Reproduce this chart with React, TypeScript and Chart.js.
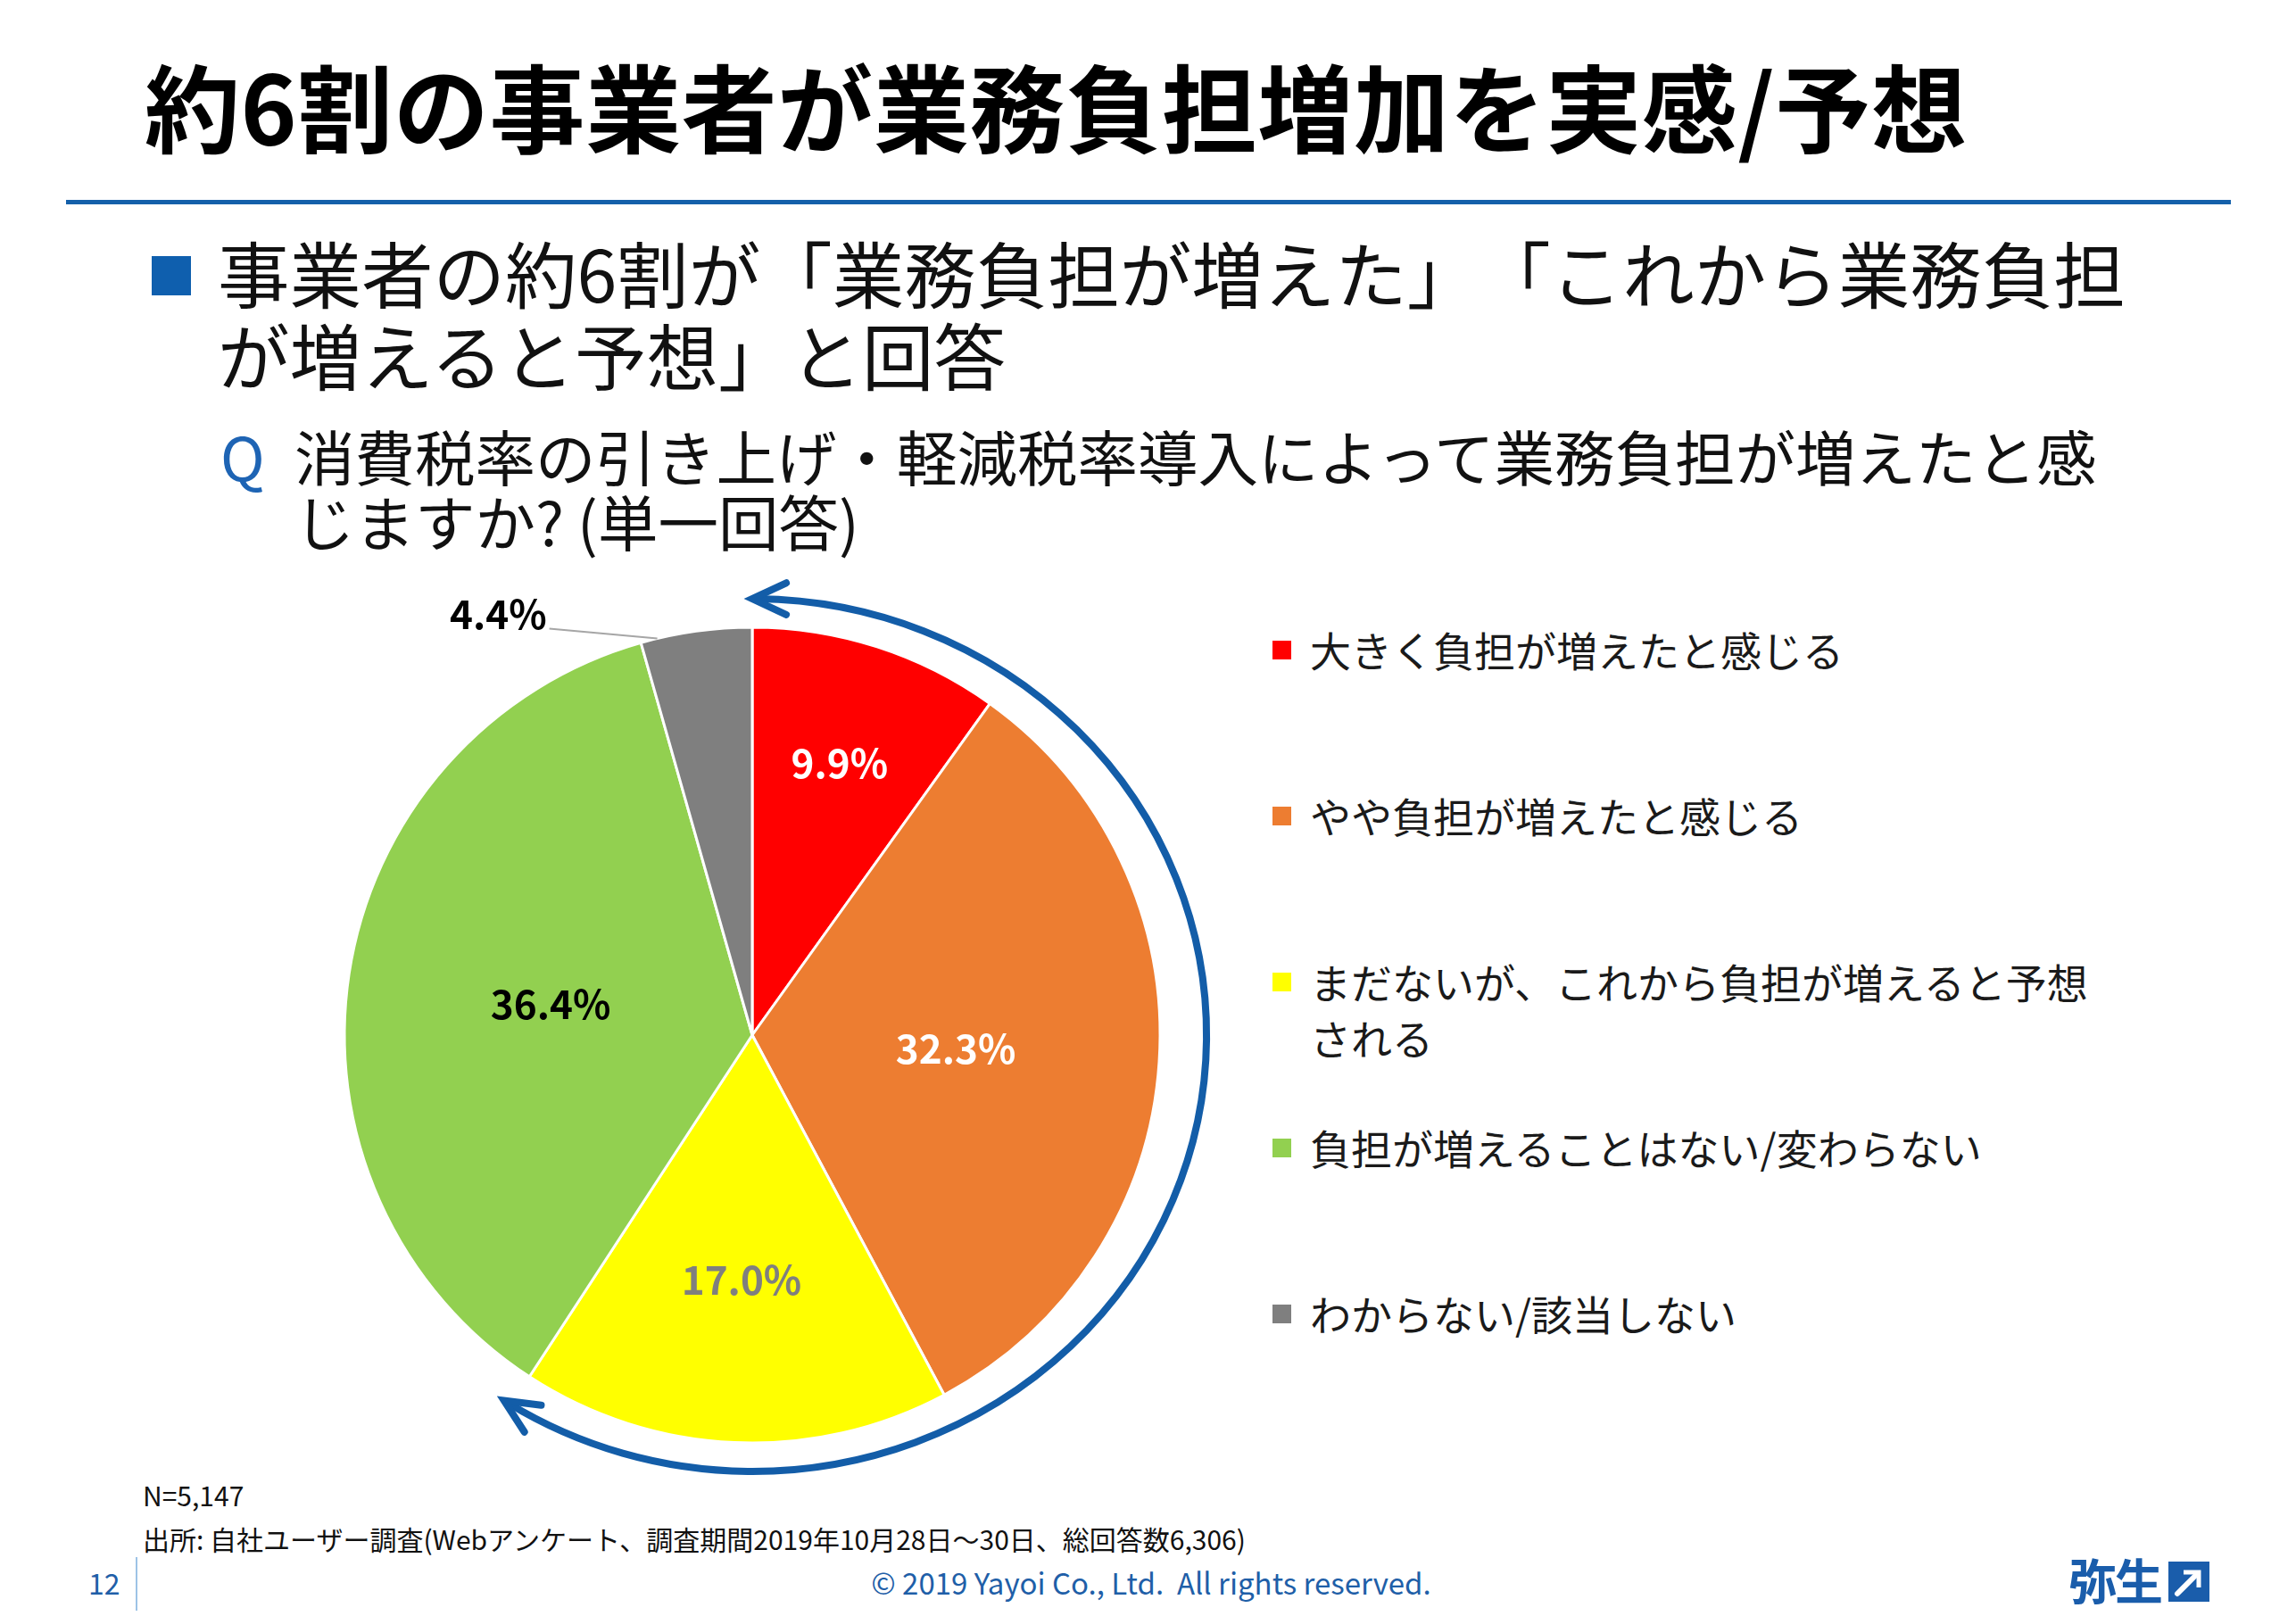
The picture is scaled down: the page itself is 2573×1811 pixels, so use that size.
import React, { useEffect, useRef } from "react";
import { Chart, registerables } from "chart.js";

Chart.register(...registerables);

// ---- data ----
const categories = [
  "大きく負担が増えたと感じる",
  "やや負担が増えたと感じる",
  "まだないが、これから負担が増えると予想される",
  "負担が増えることはない/変わらない",
  "わからない/該当しない",
];
const values = [9.9, 32.3, 17.0, 36.4, 4.4];
const sliceColors = ["#FF0000", "#ED7D31", "#FFFF00", "#92D050", "#7F7F7F"];
const valueLabelColors = ["#FFFFFF", "#FFFFFF", "#7F7F7F", "#000000", "#000000"];
const valueLabels = values.map((v) => v.toFixed(1) + "%");

const titleText = "約6割の事業者が業務負担増加を実感/予想";
const subtitleLines = ["事業者の約6割が「業務負担が増えた」「これから業務負担", "が増えると予想」と回答"];
const questionLines = ["消費税率の引き上げ・軽減税率導入によって業務負担が増えたと感", "じますか? (単一回答)"];
const noteN = "N=5,147";
const noteSource = "出所: 自社ユーザー調査(Webアンケート、調査期間2019年10月28日～30日、総回答数6,306)";
const pageNumber = "12";
const copyright = "© 2019 Yayoi Co., Ltd.  All rights reserved.";
const logoText = "弥生";

// ---- styles ----
const FONT = '"Noto Sans CJK JP", "Noto Sans", sans-serif';
const BLUE = "#1460AA";
const ARROW_BLUE = "#135DA8";
const PIE_RADIUS = 457;
const CANVAS_W = 1100;
const CANVAS_H = 1040;
const PIE_CX = 843;
const PIE_CY = 1160;
const labelRadiusFactor = [0.7, 0.5, 0.6, 0.5];

const decorPlugin = {
  id: "pieDecor",
  afterDatasetsDraw(chart: any) {
    const ctx = chart.ctx as CanvasRenderingContext2D;
    const arcs = chart.getDatasetMeta(0).data as any[];
    if (!arcs.length) return;
    const cx = arcs[0].x;
    const cy = arcs[0].y;
    const R = arcs[0].outerRadius;
    ctx.save();
    ctx.font = `700 44px ${FONT}`;
    ctx.textBaseline = "middle";
    arcs.forEach((arc, i) => {
      const mid = (arc.startAngle + arc.endAngle) / 2;
      if (i < labelRadiusFactor.length) {
        const f = labelRadiusFactor[i];
        ctx.textAlign = "center";
        ctx.fillStyle = valueLabelColors[i];
        ctx.fillText(valueLabels[i], cx + Math.cos(mid) * R * f, cy + Math.sin(mid) * R * f);
      } else {
        const a = arc.startAngle + (arc.endAngle - arc.startAngle) * 0.15;
        const ex = cx + Math.cos(a) * R;
        const ey = cy + Math.sin(a) * R;
        const sx = ex - 121;
        const sy = ey - 11;
        ctx.strokeStyle = "#A6A6A6";
        ctx.lineWidth = 2;
        ctx.beginPath();
        ctx.moveTo(sx, sy);
        ctx.lineTo(ex, ey);
        ctx.stroke();
        ctx.textAlign = "right";
        ctx.fillStyle = valueLabelColors[i];
        ctx.fillText(valueLabels[i], sx - 3, sy - 16);
      }
    });

    // double-headed arc arrow around the first three slices
    const rx = R * 1.114;
    const ry = R * 1.07;
    const t0 = arcs[0].startAngle;
    const t1 = arcs[2].endAngle;
    ctx.strokeStyle = ARROW_BLUE;
    ctx.lineWidth = 8;
    ctx.lineCap = "round";
    ctx.lineJoin = "miter";
    ctx.beginPath();
    ctx.ellipse(cx, cy, rx, ry, 0, t0 + 0.01, t1 - 0.01);
    ctx.stroke();
    const head = (t: number, dir: number) => {
      const px = cx + rx * Math.cos(t);
      const py = cy + ry * Math.sin(t);
      let tx = -rx * Math.sin(t);
      let ty = ry * Math.cos(t);
      const len = Math.hypot(tx, ty);
      tx /= len;
      ty /= len;
      const bx = -dir * tx;
      const by = -dir * ty;
      const ang = (25 * Math.PI) / 180;
      const L = 42;
      const r1x = bx * Math.cos(ang) - by * Math.sin(ang);
      const r1y = bx * Math.sin(ang) + by * Math.cos(ang);
      const r2x = bx * Math.cos(-ang) - by * Math.sin(-ang);
      const r2y = bx * Math.sin(-ang) + by * Math.cos(-ang);
      ctx.beginPath();
      ctx.moveTo(px + r1x * L, py + r1y * L);
      ctx.lineTo(px, py);
      ctx.lineTo(px + r2x * L, py + r2y * L);
      ctx.stroke();
    };
    head(t0, -1);
    head(t1, 1);
    ctx.restore();
  },
};

function abs(left: number, top: number, extra: React.CSSProperties = {}): React.CSSProperties {
  return {
    position: "absolute",
    left,
    top,
    whiteSpace: "pre",
    fontFamily: FONT,
    margin: 0,
    textSpacingTrim: "space-all",
    ...extra,
  } as React.CSSProperties;
}

export default function App() {
  const canvasRef = useRef<HTMLCanvasElement | null>(null);

  useEffect(() => {
    if (!canvasRef.current) return;
    const chart = new Chart(canvasRef.current, {
      type: "pie",
      data: {
        labels: categories,
        datasets: [
          {
            data: values,
            backgroundColor: sliceColors,
            borderColor: "#FFFFFF",
            borderWidth: 3,
            radius: PIE_RADIUS,
          } as any,
        ],
      },
      options: {
        responsive: false,
        animation: false,
        events: [],
        layout: { padding: 0 },
        plugins: { legend: { display: false }, tooltip: { enabled: false } },
      } as any,
      plugins: [decorPlugin],
    });
    return () => chart.destroy();
  }, []);

  const legendTop = 696;
  const legendStep = 186;

  return (
    <div
      style={{
        position: "absolute",
        left: 0,
        top: 0,
        width: 2573,
        height: 1811,
        background: "#FFFFFF",
        overflow: "hidden",
        fontFamily: FONT,
        color: "#000",
      }}
    >
      {/* title */}
      <div style={abs(162, 64, { fontSize: 107, lineHeight: "106px", fontWeight: 700, color: "#000", letterSpacing: 0.6 })}>
        {titleText}
      </div>
      <div style={{ position: "absolute", left: 74, top: 224, width: 2426, height: 5, background: BLUE }} />

      {/* subtitle */}
      <div style={{ position: "absolute", left: 170, top: 287, width: 44, height: 44, background: "#0F5FAE" }} />
      {subtitleLines.map((s, i) => (
        <div key={i} style={abs(244, 258 + i * 92, { fontSize: 80.5, lineHeight: "92px", color: "#111" })}>
          {s}
        </div>
      ))}

      {/* question */}
      <div style={abs(247, 473, { fontSize: 67, lineHeight: "73px", color: "#1E64B4" })}>Q</div>
      {questionLines.map((s, i) => (
        <div key={i} style={abs(330, 473 + i * 73, { fontSize: 67.5, lineHeight: "73px", color: "#111" })}>
          {s}
        </div>
      ))}

      {/* chart */}
      <canvas
        ref={canvasRef}
        width={CANVAS_W}
        height={CANVAS_H}
        style={{ position: "absolute", left: PIE_CX - CANVAS_W / 2, top: PIE_CY - CANVAS_H / 2, width: CANVAS_W, height: CANVAS_H }}
      />

      {/* legend */}
      {categories.map((c, i) => (
        <div key={i} style={{ position: "absolute", left: 1426, top: legendTop + i * legendStep, display: "flex", alignItems: "flex-start" }}>
          <div style={{ width: 21, height: 21, background: sliceColors[i], marginTop: 22, flex: "0 0 auto" }} />
          <div
            style={{
              marginLeft: 21,
              width: 900,
              fontFamily: FONT,
              fontSize: 46,
              lineHeight: "63px",
              color: "#1A1A1A",
              wordBreak: "break-all",
            }}
          >
            {c}
          </div>
        </div>
      ))}

      {/* notes */}
      <div style={abs(160, 1657, { fontSize: 30, lineHeight: "36px", color: "#111" })}>{noteN}</div>
      <div style={abs(160, 1706, { fontSize: 30, lineHeight: "36px", color: "#111" })}>{noteSource}</div>

      {/* footer */}
      <div style={abs(99, 1753, { fontSize: 32, lineHeight: "40px", color: "#1F5FA8" })}>{pageNumber}</div>
      <div style={{ position: "absolute", left: 152, top: 1745, width: 2, height: 60, background: "#9DC3E6" }} />
      <div style={abs(1290, 1753, { fontSize: 33, lineHeight: "40px", color: "#1F5FA8", transform: "translateX(-50%)" })}>
        {copyright}
      </div>
      <div style={abs(2318, 1743, { fontSize: 54, lineHeight: "54px", fontWeight: 700, color: "#1A5DAB", letterSpacing: -2 })}>
        {logoText}
      </div>
      <svg style={{ position: "absolute", left: 2430, top: 1750 }} width={46} height={45} viewBox="0 0 46 45">
        <rect x={0} y={0} width={46} height={45} fill="#1A5DAB" />
        <line x1={10} y1={36} x2={32} y2={14} stroke="#FFFFFF" strokeWidth={6} strokeLinecap="round" />
        <polyline points="17,12 34,12 34,29" fill="none" stroke="#FFFFFF" strokeWidth={5} strokeLinejoin="miter" />
      </svg>
    </div>
  );
}
